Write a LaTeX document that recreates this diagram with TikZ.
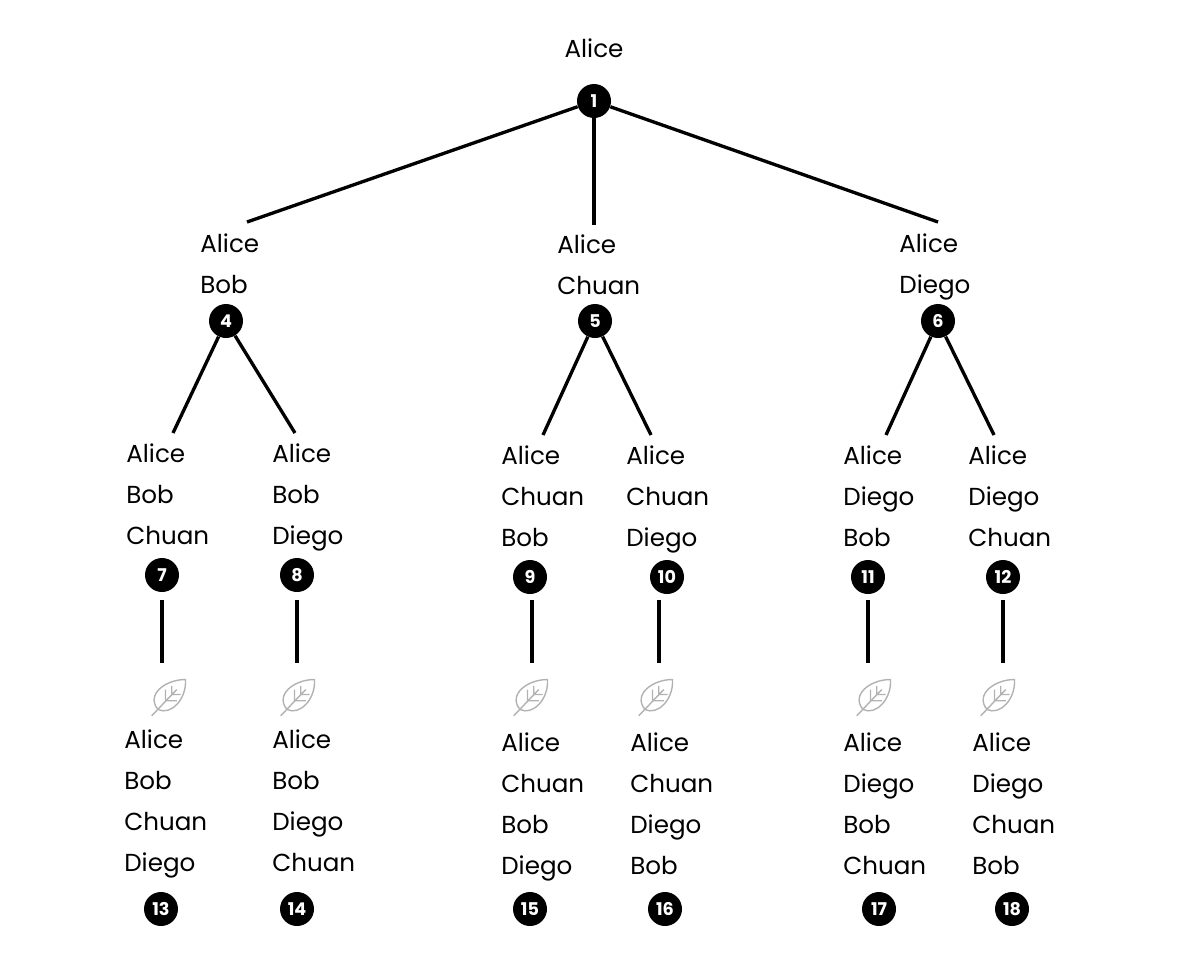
\documentclass[tikz,border=0pt]{standalone}
\usepackage{fontspec}
\setmainfont{Poppins}
\tikzset{
  names/.style={anchor=base west, align=left, inner sep=0pt,
    font=\fontsize{14}{23.2}\selectfont},
  num/.style={circle, fill=black, text=white, inner sep=0pt,
    minimum size=0.68cm, font=\fontsize{10}{10}\selectfont\bfseries},
  edge/.style={line width=1.9pt},
  pics/leaf/.style={code={
    \begin{scope}[scale=1.25]
    \draw[gray!60, line width=0.8pt, line join=round]
      (-8,10) .. controls (-18,-2) and (-2,-14) .. (14,-14)
              .. controls (15,2) and (2,15) .. (-8,10);
    \draw[gray!60, line width=0.8pt] (-13,15) -- (7,-6)
      (-2,3) -- (-2,-6) (-2,3) -- (7,3) (3,-2) -- (3,-9) (3,-2) -- (10,-2);
    \end{scope}
  }}
}
\begin{document}
\begin{tikzpicture}[x=0.02cm, y=-0.02cm]
  \useasboundingbox (0,0) rectangle (1200,964);

  % root
  \node[names, anchor=base] (t1) at (594,57) {Alice};
  \node[num] (c1) at (594,101) {1};

  % second level
  \node[names] (t4) at (200,293) {Alice\\Bob};
  \node[names] (t5) at (557,294) {Alice\\Chuan};
  \node[names] (t6) at (899,293) {Alice\\Diego};
  \node[num] (c4) at (226,321) {4};
  \node[num] (c5) at (595,321) {5};
  \node[num] (c6) at (938,321) {6};
  \coordinate (e4) at (247,222);
  \coordinate (e5) at (594,225);
  \coordinate (e6) at (938,222);
  \foreach \k in {4,5,6}
    \draw[edge] (c1) -- (e\k);

  % third level
  \node[names] (t7) at (126,544) {Alice\\Bob\\Chuan};
  \node[names] (t8) at (272,544) {Alice\\Bob\\Diego};
  \node[names] (t9) at (501,546) {Alice\\Chuan\\Bob};
  \node[names] (t10) at (626,546) {Alice\\Chuan\\Diego};
  \node[names] (t11) at (843,546) {Alice\\Diego\\Bob};
  \node[names] (t12) at (968,546) {Alice\\Diego\\Chuan};
  \node[num] (c7) at (162,575) {7};
  \node[num] (c8) at (297,575) {8};
  \node[num] (c9) at (530,577) {9};
  \node[num] (c10) at (667,577) {10};
  \node[num] (c11) at (868,577) {11};
  \node[num] (c12) at (1003,577) {12};
  \coordinate (e7) at (173,433);
  \coordinate (e8) at (295,433);
  \coordinate (e9) at (543,435);
  \coordinate (e10) at (651,435);
  \coordinate (e11) at (886,435);
  \coordinate (e12) at (994,435);
  \draw[edge] (c4) -- (e7) (c4) -- (e8);
  \draw[edge] (c5) -- (e9) (c5) -- (e10);
  \draw[edge] (c6) -- (e11) (c6) -- (e12);

  % leaves
  \foreach \n/\x/\lx in {7/162/168, 8/297/297, 9/532/530, 10/659/655, 11/868/873, 12/1003/997} {
    \coordinate (s\n) at (\x,600);
    \coordinate (f\n) at (\x,663);
    \draw[edge] (s\n) -- (f\n);
    \pic at (\lx,697) {leaf};
  }
  \node[names] (t13) at (124,871) {Alice\\Bob\\Chuan\\Diego};
  \node[names] (t14) at (272,871) {Alice\\Bob\\Diego\\Chuan};
  \node[names] (t15) at (501,874) {Alice\\Chuan\\Bob\\Diego};
  \node[names] (t16) at (630,874) {Alice\\Chuan\\Diego\\Bob};
  \node[names] (t17) at (843,874) {Alice\\Diego\\Bob\\Chuan};
  \node[names] (t18) at (972,874) {Alice\\Diego\\Chuan\\Bob};
  \node[num] (c13) at (161,909) {13};
  \node[num] (c14) at (297,909) {14};
  \node[num] (c15) at (530,909) {15};
  \node[num] (c16) at (665,909) {16};
  \node[num] (c17) at (879,909) {17};
  \node[num] (c18) at (1012,909) {18};
\end{tikzpicture}
\end{document}
